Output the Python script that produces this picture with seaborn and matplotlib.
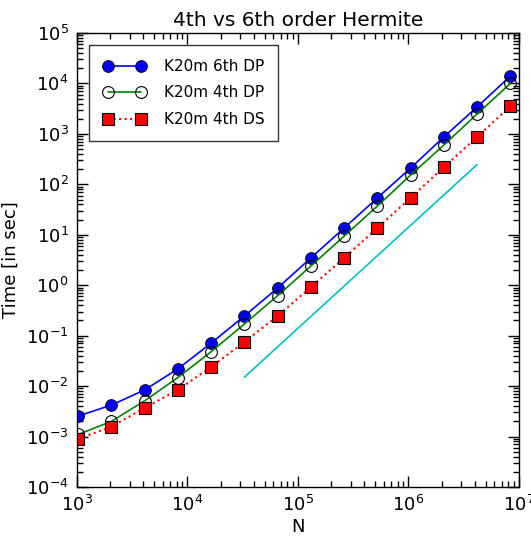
import numpy as np
import pandas as pd
import matplotlib
matplotlib.use("Agg")
import matplotlib.pyplot as plt
from matplotlib.ticker import LogLocator, NullFormatter
import seaborn as sns

# Particle counts (2^10 .. 2^23) and wall-clock times
n_particles = [2 ** k for k in range(10, 24)]
time_6th_dp = [2.55e-3, 4.2e-3, 8.4e-3, 0.022, 0.071, 0.245, 0.88, 3.47, 13.6, 53.7, 210, 870, 3410, 14000]
time_4th_dp = [1.1e-3, 2.0e-3, 5.1e-3, 0.0148, 0.048, 0.17, 0.62, 2.4, 9.4, 37, 153, 600, 2480, 10000]
time_4th_ds = [9.0e-4, 1.57e-3, 3.7e-3, 8.4e-3, 0.024, 0.075, 0.245, 0.92, 3.47, 13.6, 54, 218, 870, 3530]
series_labels = ["K20m 6th DP", "K20m 4th DP", "K20m 4th DS"]

# O(N^2) reference slope
ref_n = [32768, 4194304]
ref_t = [0.015, 246]

sns.set_style("ticks")
plt.rcParams.update({
    "font.family": ["DejaVu Sans"],
    "mathtext.fontset": "dejavusans",
    "text.color": "black",
    "axes.labelcolor": "black",
    "xtick.direction": "in",
    "ytick.direction": "in",
    "xtick.top": True,
    "ytick.right": True,
    "xtick.major.size": 8,
    "ytick.major.size": 8,
    "xtick.minor.size": 4,
    "ytick.minor.size": 4,
    "axes.linewidth": 1.0,
    "axes.edgecolor": "black",
    "xtick.color": "black",
    "ytick.color": "black",
    "xtick.labelcolor": "black",
    "ytick.labelcolor": "black",
})

fig = plt.figure(figsize=(5.31, 5.47), dpi=100)
ax = fig.add_axes([0.145, 0.1097, 0.832, 0.83])

df = pd.DataFrame({
    "N": n_particles * 3,
    "time": time_6th_dp + time_4th_dp + time_4th_ds,
    "series": [series_labels[0]] * 14 + [series_labels[1]] * 14 + [series_labels[2]] * 14,
})

styles = {
    series_labels[0]: dict(color="blue", marker="o", markersize=8.5, markerfacecolor="blue",
                           markeredgecolor="black", markeredgewidth=0.6, linestyle="-", linewidth=1.2),
    series_labels[1]: dict(color="green", marker="o", markersize=8.5, markerfacecolor="none",
                           markeredgecolor="black", markeredgewidth=0.8, linestyle="-", linewidth=1.2),
    series_labels[2]: dict(color="red", marker="s", markersize=8.5, markerfacecolor="red",
                           markeredgecolor="black", markeredgewidth=0.8, linestyle=":", linewidth=1.5),
}

for name in series_labels:
    sub = df[df["series"] == name]
    sns.lineplot(data=sub, x="N", y="time", ax=ax, label=name, **styles[name])

sns.lineplot(x=ref_n, y=ref_t, ax=ax, color="#00bfbf", linewidth=1.2)

ax.set_xscale("log")
ax.set_yscale("log")
ax.set_xlim(1e3, 1e7)
ax.set_ylim(1e-4, 1e5)

ax.xaxis.set_major_locator(LogLocator(base=10, numticks=20))
ax.yaxis.set_major_locator(LogLocator(base=10, numticks=20))
ax.xaxis.set_minor_locator(LogLocator(base=10, subs=np.arange(2, 10), numticks=20))
ax.yaxis.set_minor_locator(LogLocator(base=10, subs=np.arange(2, 10), numticks=20))
ax.xaxis.set_minor_formatter(NullFormatter())
ax.yaxis.set_minor_formatter(NullFormatter())
ax.tick_params(axis="both", which="major", labelsize=13, pad=6, labelcolor="black")
ax.tick_params(axis="both", which="both", width=1.0)

ax.set_xlabel("N", fontsize=13, labelpad=2, color="black")
ax.set_ylabel("Time [in sec]", fontsize=13, labelpad=4, color="black")
ax.set_title("4th vs 6th order Hermite", fontsize=14.5, pad=5, color="black")

handles, labels = ax.get_legend_handles_labels()
leg = ax.legend(handles[:3], labels[:3], loc="upper left", numpoints=2, fontsize=11,
                frameon=True, fancybox=False, edgecolor="black", borderpad=0.9,
                labelspacing=0.75, handlelength=2.8, handletextpad=1.2,
                borderaxespad=0.8, labelcolor="black")
leg.get_frame().set_linewidth(1.0)

fig.savefig("out.png", dpi=100)
